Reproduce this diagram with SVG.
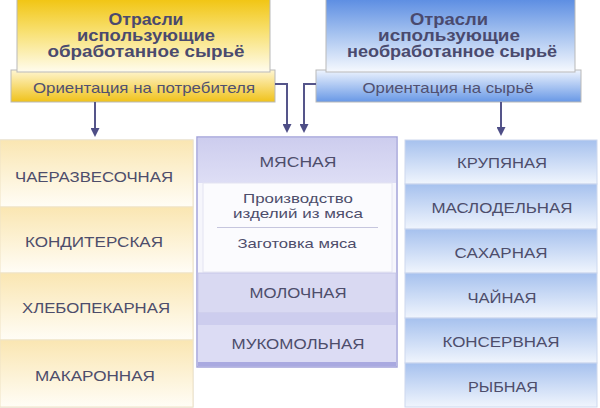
<svg xmlns="http://www.w3.org/2000/svg" width="600" height="408" viewBox="0 0 600 408">
<defs>
<linearGradient id="gHeadY" x1="0" y1="0" x2="0" y2="1"><stop offset="0" stop-color="#f1c40f"/><stop offset="0.45" stop-color="#f8e070"/><stop offset="1" stop-color="#fffcee"/></linearGradient>
<linearGradient id="gSubY" x1="0" y1="0" x2="0" y2="1"><stop offset="0" stop-color="#fff6d2"/><stop offset="1" stop-color="#f0c21a"/></linearGradient>
<linearGradient id="gHeadB" x1="0" y1="0" x2="0" y2="1"><stop offset="0" stop-color="#5a8ce2"/><stop offset="0.5" stop-color="#a8c4f0"/><stop offset="1" stop-color="#f6f9fe"/></linearGradient>
<linearGradient id="gSubB" x1="0" y1="0" x2="0" y2="1"><stop offset="0" stop-color="#eef4fe"/><stop offset="1" stop-color="#6898e6"/></linearGradient>
<linearGradient id="gRowY" x1="0" y1="0" x2="0" y2="1"><stop offset="0" stop-color="#fae6b2"/><stop offset="1" stop-color="#fffdf6"/></linearGradient>
<linearGradient id="gRowB" x1="0" y1="0" x2="0" y2="1"><stop offset="0" stop-color="#a6c1ee"/><stop offset="1" stop-color="#f0f5fd"/></linearGradient>
<linearGradient id="gMid" x1="0" y1="0" x2="0" y2="1"><stop offset="0" stop-color="#cdcdee"/><stop offset="1" stop-color="#dedef5"/></linearGradient>
<marker id="arr" viewBox="0 0 10 10" markerWidth="9" markerHeight="9" markerUnits="userSpaceOnUse" refX="3" refY="5" orient="auto"><path d="M0,0 L10,5 L0,10 z" fill="#4e4e86"/></marker>
</defs>
<style>
text{font-family:"Liberation Sans",Arial,sans-serif;fill:#4d4d6b;text-anchor:middle}
.h{font-weight:bold;font-size:16px;fill:#4a4a6e}
.s{font-size:15px;fill:#505070}
.c{font-size:15px}
.m{font-size:13px}
.box{stroke:#b9b9b9;stroke-width:1}
.rowY{fill:url(#gRowY);stroke:#efe3c6;stroke-width:1}
.rowB{fill:url(#gRowB);stroke:#cdd8ee;stroke-width:1}
.conn{fill:none;stroke:#55558a;stroke-width:2}
</style>
<rect width="600" height="408" fill="#ffffff"/>

<g id="head-left">
<rect class="box" x="11" y="70" width="264" height="32" fill="url(#gSubY)"/>
<rect class="box" x="17" y="-2" width="253" height="74" fill="url(#gHeadY)"/>
<text class="h" x="146" y="25" textLength="75" lengthAdjust="spacingAndGlyphs">Отрасли</text>
<text class="h" x="146" y="41" textLength="138" lengthAdjust="spacingAndGlyphs">использующие</text>
<text class="h" x="146" y="56.5" textLength="197" lengthAdjust="spacingAndGlyphs">обработанное сырьё</text>
<text class="s" x="144" y="92.5" textLength="222" lengthAdjust="spacingAndGlyphs">Ориентация на потребителя</text>
</g>

<g id="head-right">
<rect class="box" x="316" y="70" width="265" height="32" fill="url(#gSubB)"/>
<rect class="box" x="326" y="-2" width="249" height="74" fill="url(#gHeadB)"/>
<text class="h" x="449" y="25" textLength="78" lengthAdjust="spacingAndGlyphs">Отрасли</text>
<text class="h" x="449" y="41" textLength="142" lengthAdjust="spacingAndGlyphs">использующие</text>
<text class="h" x="452" y="56.5" textLength="210" lengthAdjust="spacingAndGlyphs">необработанное сырьё</text>
<text class="s" x="448" y="92.5" textLength="171" lengthAdjust="spacingAndGlyphs">Ориентация на сырьё</text>
</g>

<g id="connectors">
<path class="conn" d="M95,102 V130.7" marker-end="url(#arr)"/>
<path class="conn" d="M275,84 H287 V126.7" marker-end="url(#arr)"/>
<path class="conn" d="M316,84 H304 V126.7" marker-end="url(#arr)"/>
<path class="conn" d="M501,102 V129.7" marker-end="url(#arr)"/>
</g>

<g id="col-left">
<rect x="0" y="140" width="193" height="267" fill="none" stroke="#dcdcdc" stroke-width="1"/>
<g id="n-chaeraz"><rect class="rowY" x="0" y="140" width="193" height="67"/><text class="c" x="94" y="182" textLength="158" lengthAdjust="spacingAndGlyphs">ЧАЕРАЗВЕСОЧНАЯ</text></g>
<g id="n-kondit"><rect class="rowY" x="0" y="207" width="193" height="66"/><text class="c" x="94" y="246.5" textLength="138" lengthAdjust="spacingAndGlyphs">КОНДИТЕРСКАЯ</text></g>
<g id="n-hleb"><rect class="rowY" x="0" y="273" width="193" height="67"/><text class="c" x="96" y="313" textLength="148" lengthAdjust="spacingAndGlyphs">ХЛЕБОПЕКАРНАЯ</text></g>
<g id="n-makar"><rect class="rowY" x="0" y="340" width="193" height="67"/><text class="c" x="95" y="381" textLength="120" lengthAdjust="spacingAndGlyphs">МАКАРОННАЯ</text></g>
</g>

<g id="col-mid">
<rect x="197" y="137" width="200" height="230" fill="#f6f6fc" stroke="#a4a4da" stroke-width="1.5"/>
<g id="n-myas">
<rect x="198" y="138" width="198" height="45" fill="url(#gMid)"/>
<rect x="203" y="183" width="189" height="89" fill="#fbfbfe" stroke="#e4e4f2" stroke-width="1"/>
<text class="c" x="298" y="167" textLength="77" lengthAdjust="spacingAndGlyphs">МЯСНАЯ</text>
<text class="m" x="298" y="203" textLength="110" lengthAdjust="spacingAndGlyphs">Производство</text>
<text class="m" x="298" y="218" textLength="130" lengthAdjust="spacingAndGlyphs">изделий из мяса</text>
<line x1="217" y1="227.5" x2="378" y2="227.5" stroke="#c6c6de" stroke-width="1"/>
<text class="m" x="297" y="248" textLength="119" lengthAdjust="spacingAndGlyphs">Заготовка мяса</text>
</g>
<g id="n-moloch">
<rect x="198" y="273" width="198" height="40" fill="#d9d9f2" stroke="#c4c4e6" stroke-width="0.8"/>
<text class="c" x="298" y="298" textLength="97" lengthAdjust="spacingAndGlyphs">МОЛОЧНАЯ</text>
</g>
<rect x="198" y="313" width="198" height="12" fill="#cdcdee"/>
<g id="n-mukom">
<rect x="198" y="325" width="198" height="37" fill="#dcdcf4"/>
<rect x="198" y="362" width="198" height="4.5" fill="#a9a9e0"/>
<text class="c" x="298" y="349" textLength="133" lengthAdjust="spacingAndGlyphs">МУКОМОЛЬНАЯ</text>
</g>
</g>

<g id="col-right">
<g id="n-krup"><rect class="rowB" x="405" y="140" width="192" height="44"/><text class="c" x="502" y="167.5" textLength="90" lengthAdjust="spacingAndGlyphs">КРУПЯНАЯ</text></g>
<g id="n-maslo"><rect class="rowB" x="405" y="184" width="192" height="45"/><text class="c" x="502" y="213" textLength="141" lengthAdjust="spacingAndGlyphs">МАСЛОДЕЛЬНАЯ</text></g>
<g id="n-sahar"><rect class="rowB" x="405" y="229" width="192" height="44"/><text class="c" x="501" y="257.5" textLength="93" lengthAdjust="spacingAndGlyphs">САХАРНАЯ</text></g>
<g id="n-chai"><rect class="rowB" x="405" y="273" width="192" height="45"/><text class="c" x="502" y="302.5" textLength="69" lengthAdjust="spacingAndGlyphs">ЧАЙНАЯ</text></g>
<g id="n-konserv"><rect class="rowB" x="405" y="318" width="192" height="45"/><text class="c" x="501" y="346.5" textLength="117" lengthAdjust="spacingAndGlyphs">КОНСЕРВНАЯ</text></g>
<g id="n-ryb"><rect class="rowB" x="405" y="363" width="192" height="44"/><text class="c" x="503" y="391.5" textLength="70" lengthAdjust="spacingAndGlyphs">РЫБНАЯ</text></g>
</g>
</svg>
